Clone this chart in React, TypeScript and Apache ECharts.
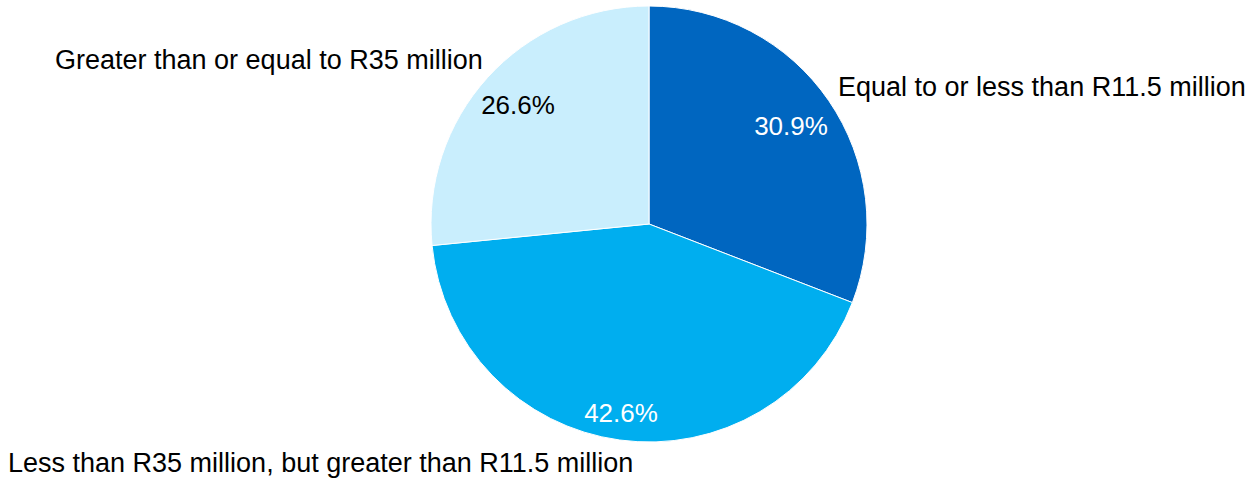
import React, { useEffect, useRef } from "react";
import * as echarts from "echarts";

const categories = [
  "Equal to or less than R11.5 million",
  "Less than R35 million, but greater than R11.5 million",
  "Greater than or equal to R35 million",
];
const values = [30.9, 42.6, 26.6];
const colors = ["#0066C0", "#00AEEF", "#C9EEFD"];
const pctTextColors = ["#FFFFFF", "#FFFFFF", "#000000"];

// label layout positions (page pixels)
const nameLabelPos = [
  { x: 838, y: 87 },
  { x: 8, y: 463 },
  { x: 55, y: 60 },
];
const pctLabelPos = [
  { x: 791, y: 126 },
  { x: 621, y: 413 },
  { x: 518, y: 105 },
];

const FONT = "Liberation Sans, Arial, sans-serif";

export default function App() {
  const ref = useRef<HTMLDivElement>(null);
  useEffect(() => {
    if (!ref.current) return;
    const chart = echarts.init(ref.current, null, { renderer: "svg" });
    const data = categories.map((c, i) => ({
      name: c,
      value: values[i],
      itemStyle: { color: colors[i] },
      label: { color: pctTextColors[i] },
    }));
    chart.setOption({
      animation: false,
      backgroundColor: "#FFFFFF",
      textStyle: { fontFamily: FONT },
      graphic: categories.map((c, i) => ({
        type: "text",
        x: nameLabelPos[i].x,
        y: nameLabelPos[i].y,
        style: {
          text: c,
          fontSize: 27,
          fontFamily: FONT,
          fill: "#000000",
          textAlign: "left",
          textVerticalAlign: "middle",
        },
      })),
      series: [
        {
          type: "pie",
          center: [649, 224],
          radius: [0, 218],
          startAngle: 90,
          clockwise: true,
          silent: true,
          itemStyle: { borderColor: "#FFFFFF", borderWidth: 1 },
          label: {
            show: true,
            position: "inside",
            formatter: (p: any) => p.value.toFixed(1) + "%",
            fontSize: 26,
            fontFamily: FONT,
            color: "#000",
          },
          labelLayout: (p: any) => ({
            x: pctLabelPos[p.dataIndex].x,
            y: pctLabelPos[p.dataIndex].y,
            align: "center",
            verticalAlign: "middle",
          }),
          labelLine: { show: false },
          data,
        },
      ],
    });
    return () => chart.dispose();
  }, []);
  return (
    <div
      ref={ref}
      style={{ position: "absolute", left: 0, top: 0, width: 1260, height: 479 }}
    />
  );
}
